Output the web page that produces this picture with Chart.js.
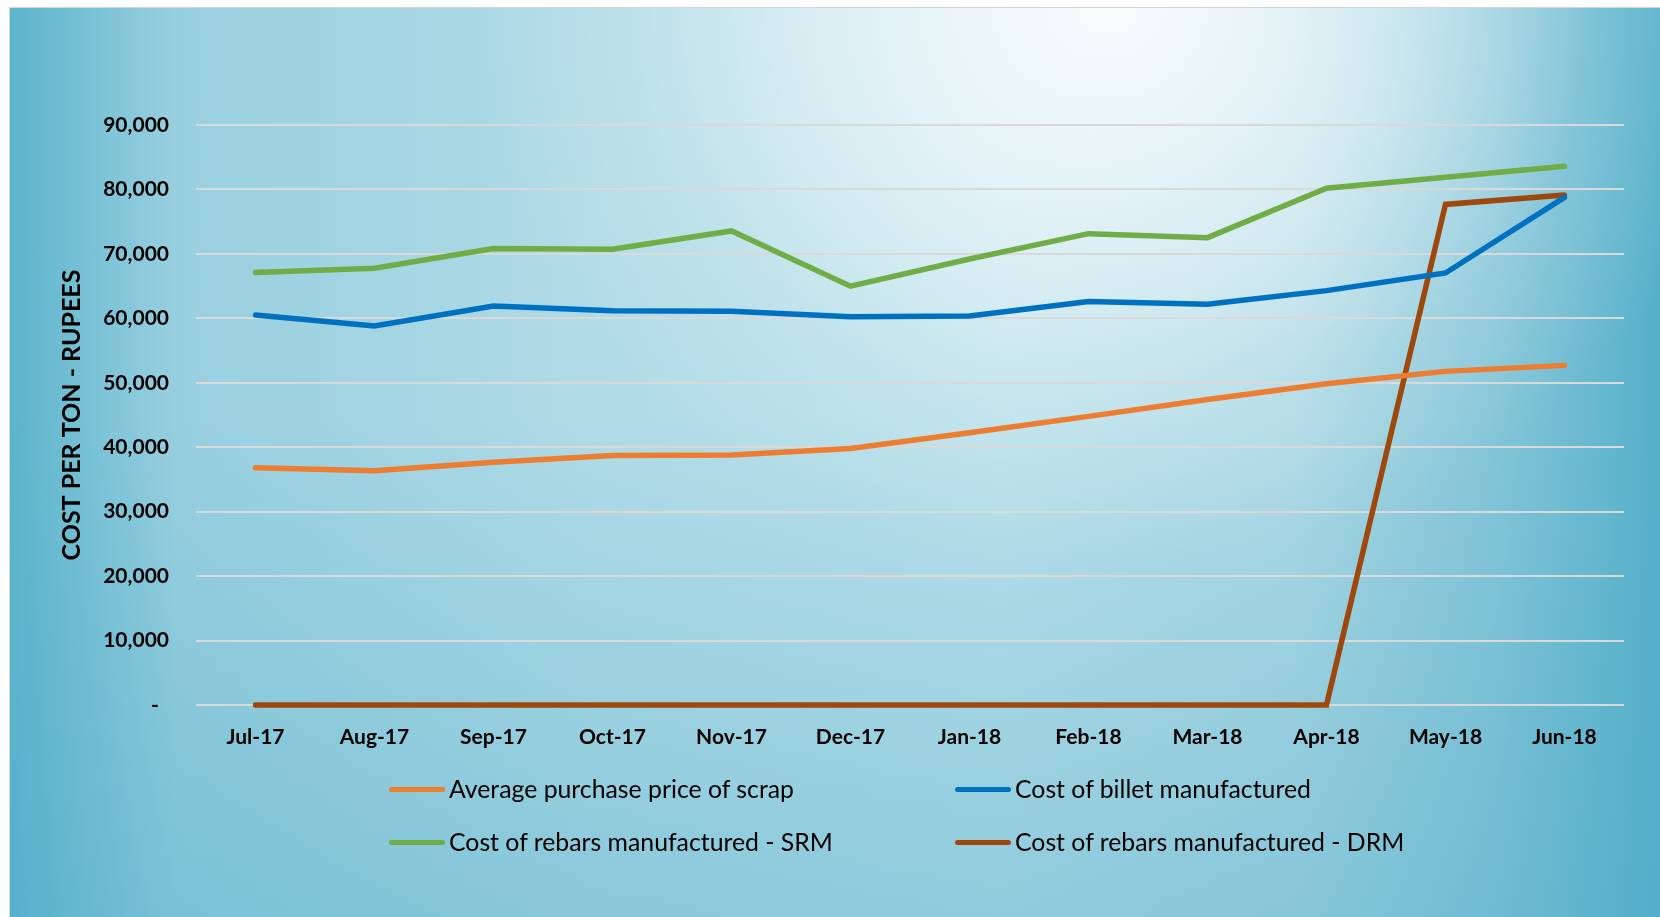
<!DOCTYPE html>
<html>
<head>
<meta charset="utf-8">
<script src="https://cdn.jsdelivr.net/npm/chart.js@4.4.0/dist/chart.umd.min.js"></script>
<style>
  html, body { margin: 0; padding: 0; width: 1660px; height: 917px; overflow: hidden; background: #ffffff; }
  #panel {
    position: absolute; left: 9px; top: 7px; width: 1651px; height: 910px;
    border-top: 1px solid #d4d4d4; border-left: 1px solid #d4d4d4;
    background:
      radial-gradient(ellipse 640px 560px at 1100px 0px, rgba(255,255,255,0.92) 0%, rgba(255,255,255,0.5) 45%, rgba(255,255,255,0.15) 75%, rgba(255,255,255,0) 100%),
      linear-gradient(to bottom, rgba(78,172,200,0) 0%, rgba(78,172,200,0) 45%, rgba(78,172,200,0.4) 100%),
      linear-gradient(to right, #5cb4cc 0%, #98cfdf 10%, #b0dbe6 35%, #bae0ea 60%, #acd8e4 78%, #84c5d8 90%, #55b0ca 100%);
  }
  #c { position: absolute; left: 0; top: 0; }
  .leg { position: absolute; font-family: Lato, "Open Sans", sans-serif; font-size: 24.8px; color: #000; white-space: nowrap; line-height: 30px; height: 30px; }
  .leg .sw { position: absolute; left: 0; top: 12.5px; width: 56px; height: 5px; border-radius: 3px; }
  .leg .tx { position: absolute; left: 60px; top: 0; }
</style>
</head>
<body>
<div id="panel"></div>
<canvas id="c" width="1660" height="917"></canvas>
<div id="legend"></div>
<script>
const categories = ['Jul-17','Aug-17','Sep-17','Oct-17','Nov-17','Dec-17','Jan-18','Feb-18','Mar-18','Apr-18','May-18','Jun-18'];
const scrapPrice = [36800, 36340, 37650, 38700, 38780, 39790, 42260, 44790, 47400, 49860, 51770, 52700];
const billetCost = [60510, 58810, 61900, 61180, 61110, 60260, 60360, 62620, 62180, 64300, 67040, 78760];
const rebarSRM   = [67110, 67780, 70820, 70710, 73560, 64990, 69200, 73140, 72520, 80200, 81900, 83600];
const rebarDRM   = [0, 0, 0, 0, 0, 0, 0, 0, 0, 0, 77680, 79120];
const seriesNames = ['Average purchase price of scrap', 'Cost of billet manufactured', 'Cost of rebars manufactured - SRM', 'Cost of rebars manufactured - DRM'];
const seriesColors = ['#ED7D31', '#0070C0', '#70AD47', '#9E480E'];
const yTickMin = 0, yTickMax = 90000, yTickStep = 10000;
const yTitle = 'COST PER TON - RUPEES';

const seriesData = [scrapPrice, billetCost, rebarSRM, rebarDRM];

const datasets = seriesData.map((d, i) => ({
  label: seriesNames[i],
  data: d,
  borderColor: seriesColors[i],
  backgroundColor: seriesColors[i],
  borderWidth: 5.5,
  pointRadius: 0,
  pointHoverRadius: 0,
  tension: 0,
  fill: false,
  clip: 10,
  borderCapStyle: 'round',
  borderJoinStyle: 'miter'
}));

new Chart(document.getElementById('c'), {
  type: 'line',
  data: { labels: categories, datasets },
  options: {
    responsive: false,
    animation: false,
    devicePixelRatio: 1,
    layout: { padding: { left: 0, top: 125, right: 36, bottom: 152 } },
    plugins: { legend: { display: false }, tooltip: { enabled: false } },
    scales: {
      x: {
        offset: true,
        grid: { display: false, drawTicks: false },
        border: { display: false },
        ticks: { color: '#000', font: { family: 'Lato', weight: 'bold', size: 21 }, padding: 20, maxRotation: 0, autoSkip: false },
        afterFit: s => { s.height = 60; }
      },
      y: {
        min: yTickMin, max: yTickMax,
        grid: { color: '#d9d9d9', lineWidth: 2, drawTicks: false },
        border: { display: false },
        ticks: {
          stepSize: yTickStep,
          color: '#000',
          font: { family: 'Lato', weight: 'bold', size: 21 },
          padding: 27,
          callback: v => v === 0 ? '-  ' : v.toLocaleString('en-US')
        },
        title: {
          display: true, text: yTitle, color: '#000',
          font: { family: 'Lato', weight: 'bold', size: 25 },
          padding: { top: 57, bottom: 0 }
        },
        afterFit: s => { s.width = 196; }
      }
    }
  }
});

// HTML legend built from series arrays
const legendPos = [
  { left: 389, top: 774 },
  { left: 955, top: 774 },
  { left: 389, top: 827 },
  { left: 955, top: 827 }
];
const leg = document.getElementById('legend');
seriesNames.forEach((name, k) => {
  const d = document.createElement('div');
  d.className = 'leg';
  d.style.left = legendPos[k].left + 'px';
  d.style.top = legendPos[k].top + 'px';
  const sw = document.createElement('div');
  sw.className = 'sw';
  sw.style.background = seriesColors[k];
  const tx = document.createElement('span');
  tx.className = 'tx';
  tx.textContent = name;
  d.appendChild(sw); d.appendChild(tx);
  leg.appendChild(d);
});
</script>
</body>
</html>
